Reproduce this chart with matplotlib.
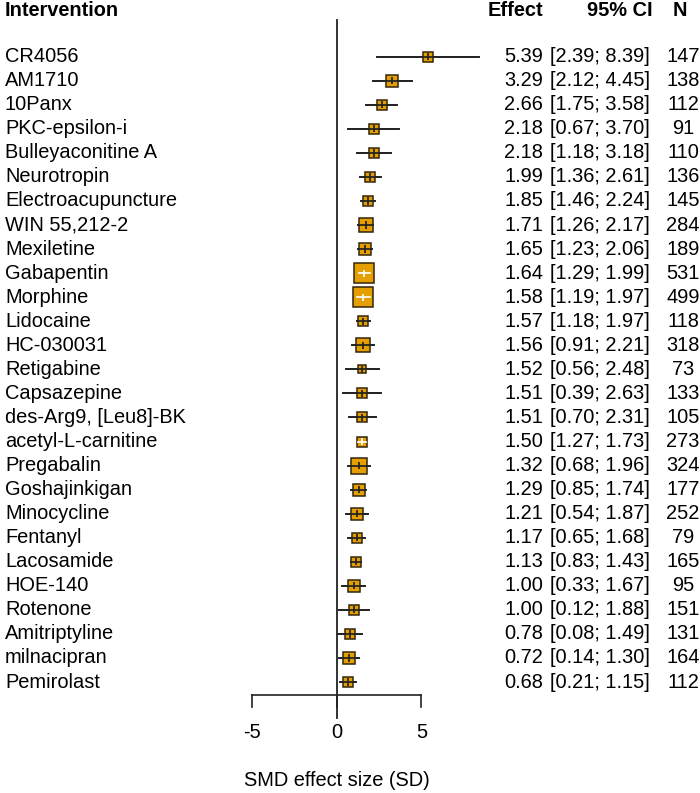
import numpy as np
import matplotlib
matplotlib.use("Agg")
import matplotlib.pyplot as plt

plt.rcParams['font.family'] = ['Liberation Sans', 'DejaVu Sans']

# data
drugs = ["CR4056", "AM1710", "10Panx", "PKC-epsilon-i", "Bulleyaconitine A",
         "Neurotropin", "Electroacupuncture", "WIN 55,212-2", "Mexiletine",
         "Gabapentin", "Morphine", "Lidocaine", "HC-030031", "Retigabine",
         "Capsazepine", "des-Arg9, [Leu8]-BK", "acetyl-L-carnitine", "Pregabalin",
         "Goshajinkigan", "Minocycline", "Fentanyl", "Lacosamide", "HOE-140",
         "Rotenone", "Amitriptyline", "milnacipran", "Pemirolast"]
effect = [5.39, 3.29, 2.66, 2.18, 2.18, 1.99, 1.85, 1.71, 1.65, 1.64, 1.58, 1.57,
          1.56, 1.52, 1.51, 1.51, 1.50, 1.32, 1.29, 1.21, 1.17, 1.13, 1.00, 1.00,
          0.78, 0.72, 0.68]
lower = [2.39, 2.12, 1.75, 0.67, 1.18, 1.36, 1.46, 1.26, 1.23, 1.29, 1.19, 1.18,
         0.91, 0.56, 0.39, 0.70, 1.27, 0.68, 0.85, 0.54, 0.65, 0.83, 0.33, 0.12,
         0.08, 0.14, 0.21]
upper = [8.39, 4.45, 3.58, 3.70, 3.18, 2.61, 2.24, 2.17, 2.06, 1.99, 1.97, 1.97,
         2.21, 2.48, 2.63, 2.31, 1.73, 1.96, 1.74, 1.87, 1.68, 1.43, 1.67, 1.88,
         1.49, 1.30, 1.15]
n = [147, 138, 112, 91, 110, 136, 145, 284, 189, 531, 499, 118, 318, 73, 133,
     105, 273, 324, 177, 252, 79, 165, 95, 151, 131, 164, 112]
# relative weight (box area), largest = 100
weight = [25, 40, 25, 23, 28, 25, 23, 49, 36, 95, 100, 28, 56, 20, 23, 28, 30,
          68, 40, 33, 23, 25, 33, 25, 28, 33, 25]
xticks = [-5, 0, 5]

W, H = 700, 793
fig = plt.figure(figsize=(W / 100, H / 100), dpi=100)
ax = fig.add_axes([0, 0, 1, 1])
ax.axis('off')

px_unit = 16.95          # pixels per SD unit
x0 = 336.7               # pixel of zero
row_h = 24.05            # pixels per row
y0 = 56.7                # pixel of first row
ax.set_xlim(-x0 / px_unit, (W - x0) / px_unit)
ax.set_ylim((H - y0) / row_h, -y0 / row_h)

def prow(p):
    # pixel y -> row coordinate
    return (p - y0) / row_h

fill = '#E69F00'
fs = 14.4
yt = ax.get_yaxis_transform()

rows = np.arange(len(drugs))
for i in rows:
    e, lo, hi = effect[i], lower[i], upper[i]
    box = 20 * np.sqrt(weight[i] / 100)          # side in pixels
    inside = (e - lo) * px_unit < box / 2 and (hi - e) * px_unit < box / 2
    lc = 'white' if inside else '#222222'
    ax.plot([lo, hi], [i, i], color='#222222', lw=1.25, zorder=2)
    ax.plot([e], [i], marker='s', ms=box * 72 / 100, mfc=fill,
            mec='#33260a', mew=1.1, zorder=3)
    ax.plot([lo, hi], [i, i], color=lc, lw=1.25, zorder=4)
    ax.vlines(e, i - 0.15, i + 0.15, color=lc, lw=1.25, zorder=4)

    ax.text(5 / W, i, drugs[i], transform=yt, fontsize=fs, ha='left', va='center')
    ax.text(543 / W, i, f"{e:.2f}", transform=yt, fontsize=fs, ha='right', va='center')
    ax.text(550 / W, i, f"[{lo:.2f}; {hi:.2f}]", transform=yt, fontsize=fs,
            ha='left', va='center')
    ax.text(683 / W, i, str(n[i]), transform=yt, fontsize=fs, ha='center', va='center')

# headers
yh = prow(11)
ax.text(5 / W, yh, "Intervention", transform=yt, fontsize=fs, fontweight='bold',
        ha='left', va='center')
ax.text(543 / W, yh, "Effect", transform=yt, fontsize=fs, fontweight='bold',
        ha='right', va='center')
ax.text(653 / W, yh, "95% CI", transform=yt, fontsize=fs, fontweight='bold',
        ha='right', va='center')
ax.text(680 / W, yh, "N", transform=yt, fontsize=fs, fontweight='bold',
        ha='center', va='center')

# reference line at zero
ax.plot([0, 0], [prow(20), prow(718)], color='#222222', lw=1.3, zorder=1)

# x axis
ya = prow(695)
ax.plot([xticks[0], xticks[-1]], [ya, ya], color='#222222', lw=1.2)
for t in xticks:
    ax.plot([t, t], [ya, prow(707)], color='#222222', lw=1.2)
    ax.text(t, prow(733), f"{t}", fontsize=fs, ha='center', va='center')
ax.text(0, prow(780), "SMD effect size (SD)", fontsize=fs, ha='center', va='center')

fig.savefig("out.png", dpi=100)
